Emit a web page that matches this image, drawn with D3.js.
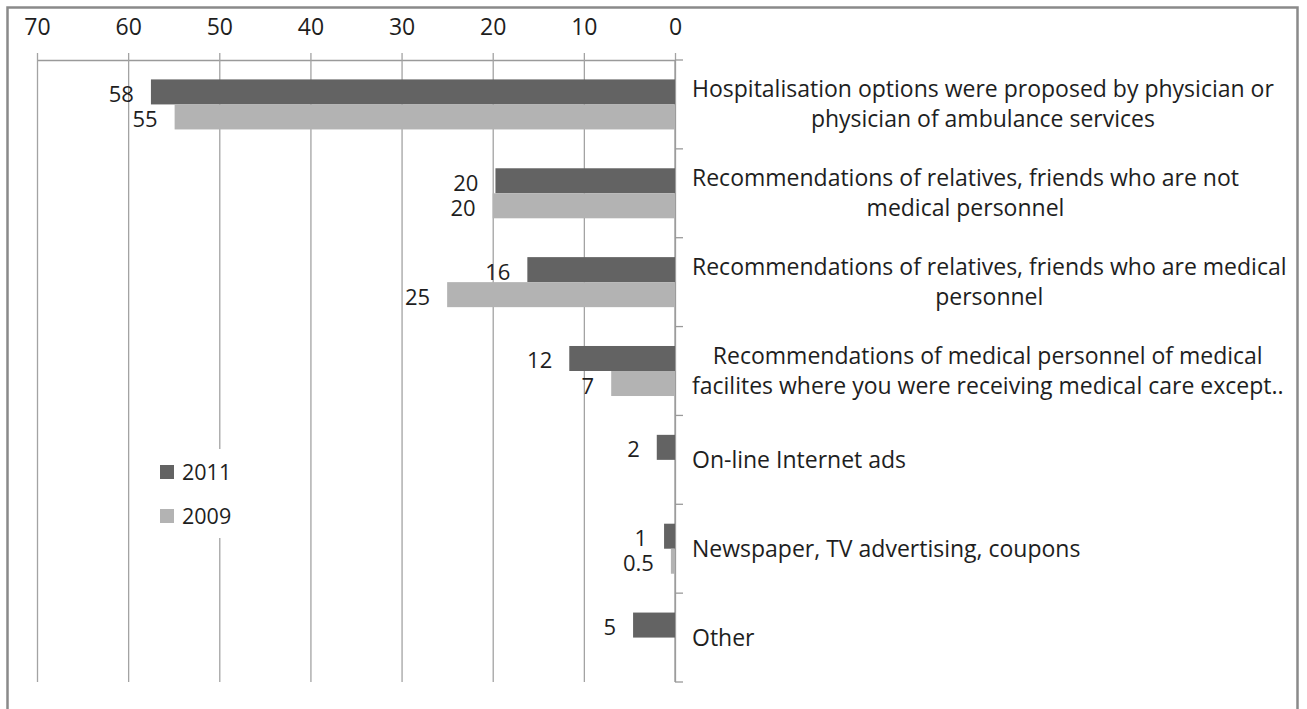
<!DOCTYPE html>
<html>
<head>
<meta charset="utf-8">
<script src="https://cdn.jsdelivr.net/npm/d3@7/dist/d3.min.js"></script>
<style>
  body { margin: 0; background: #fff; }
  svg text { font-family: "Open Sans", Lato, sans-serif; fill: #1e1e1e; }
</style>
</head>
<body>
<div id="chart"></div>
<script>
// categories, top to bottom (wrapped as in the picture)
const categories = [
    ["Hospitalisation options were proposed by physician or", "physician of ambulance services"],
    ["Recommendations of relatives, friends who are not", "medical personnel"],
    ["Recommendations of relatives, friends who are medical", "personnel"],
    ["Recommendations of medical personnel of medical", "facilites where you were receiving medical care except.."],
    ["On-line Internet ads"],
    ["Newspaper, TV advertising, coupons"],
    ["Other"]
];
const seriesNames = ["2011", "2009"];
// bar lengths
const values2011 = [57.5, 19.7, 16.2, 11.6, 2.0, 1.2, 4.6];
const values2009 = [54.9, 20.0, 25.0, 7.0, null, 0.45, null];
// data labels as printed
const labels2011 = ["58", "20", "16", "12", "2", "1", "5"];
const labels2009 = ["55", "20", "25", "7", "", "0.5", ""];
const xTicks = [0, 10, 20, 30, 40, 50, 60, 70];
const colors = {"2011": "#636363", "2009": "#b3b3b3"};

const W = 1307, H = 709;
const margin = { top: 60, left: 37 },
    width = 638,
    height = 622;

const svg0 = d3.select("#chart").append("svg")
    .attr("width", W).attr("height", H);

// outer frame
svg0.append("rect")
    .attr("x", 7.5).attr("y", 7.5)
    .attr("width", 1290).attr("height", 720)
    .attr("fill", "#fff")
    .attr("stroke", "#8a8a8a")
    .attr("stroke-width", 2.5);

const svg = svg0.append("g")
    .attr("transform", `translate(${margin.left},${margin.top})`);

// reversed value axis: 0 at the right
const x = d3.scaleLinear().domain([0, 70]).range([width, 0]);

const keys = categories.map((d, i) => "c" + i);
const y = d3.scaleBand()
    .domain(keys)
    .range([0, height])
    .paddingInner(0.437)
    .paddingOuter(0.2185);
const ySub = d3.scaleBand()
    .domain(seriesNames)
    .range([0, y.bandwidth()]);

// top axis with gridlines
const xAxis = svg.append("g")
    .call(d3.axisTop(x).tickValues(xTicks).tickSizeInner(-height).tickSizeOuter(0).tickPadding(0));
xAxis.select(".domain").attr("stroke", "#9a9a9a").attr("stroke-width", 1.3);
xAxis.selectAll(".tick line")
    .attr("y1", -7)
    .attr("stroke", "#a3a3a3")
    .attr("stroke-width", 1.3);
xAxis.selectAll(".tick text")
    .attr("y", -25)
    .attr("dy", null)
    .style("font-size", "23px")
    .style("font-family", "'Open Sans', sans-serif")
    .attr("fill", "#1e1e1e");

// category axis at zero
svg.append("line")
    .attr("x1", x(0)).attr("x2", x(0))
    .attr("y1", 0).attr("y2", height)
    .attr("stroke", "#9a9a9a").attr("stroke-width", 1.3);
svg.selectAll(".ctick")
    .data(d3.range(keys.length + 1))
    .enter().append("line")
    .attr("class", "ctick")
    .attr("x1", x(0)).attr("x2", x(0) + 8)
    .attr("y1", d => d * y.step()).attr("y2", d => d * y.step())
    .attr("stroke", "#9a9a9a").attr("stroke-width", 1.3);

// bars + labels
const rows = [];
keys.forEach((k, i) => {
    rows.push({key: k, s: "2011", v: values2011[i], label: labels2011[i]});
    rows.push({key: k, s: "2009", v: values2009[i], label: labels2009[i]});
});
const present = rows.filter(d => d.v != null);

svg.selectAll(".bar")
    .data(present)
    .enter().append("rect")
    .attr("class", "bar")
    .attr("x", d => x(d.v))
    .attr("width", d => x(0) - x(d.v))
    .attr("y", d => y(d.key) + ySub(d.s))
    .attr("height", ySub.bandwidth())
    .attr("fill", d => colors[d.s]);

svg.selectAll(".vlabel")
    .data(present)
    .enter().append("text")
    .attr("class", "vlabel")
    .attr("text-anchor", "end")
    .attr("x", d => x(d.v) - 17)
    .attr("y", d => y(d.key) + ySub(d.s) + ySub.bandwidth() / 2 + 10)
    .style("font-size", "22px")
    .text(d => d.label);

// category labels: block left-aligned, lines centred within it
const labelX = x(0) + 17;
keys.forEach((k, i) => {
    const lines = categories[i];
    const g = svg.append("g");
    const cy = y(k) + y.bandwidth() / 2;
    const lh = 30;
    const t = g.selectAll("text")
        .data(lines)
        .enter().append("text")
        .style("font-size", "23px")
        .attr("y", (d, j) => cy + (j - (lines.length - 1) / 2) * lh + 8)
        .text(d => d);
    let maxW = 0;
    t.each(function () { maxW = Math.max(maxW, this.getComputedTextLength()); });
    t.attr("text-anchor", lines.length > 1 ? "middle" : "start")
        .attr("x", lines.length > 1 ? labelX + maxW / 2 : labelX);
});

// legend
const legend = svg0.append("g");
legend.append("rect")
    .attr("x", 150).attr("y", 449)
    .attr("width", 95).attr("height", 89)
    .attr("fill", "#fff");
const li = legend.selectAll(".li")
    .data(seriesNames)
    .enter().append("g")
    .attr("transform", (d, i) => `translate(160, ${465 + i * 44})`);
li.append("rect")
    .attr("width", 14).attr("height", 14)
    .attr("fill", d => colors[d]);
li.append("text")
    .attr("x", 22).attr("y", 15)
    .style("font-size", "21.5px")
    .text(d => d);
</script>
</body>
</html>
